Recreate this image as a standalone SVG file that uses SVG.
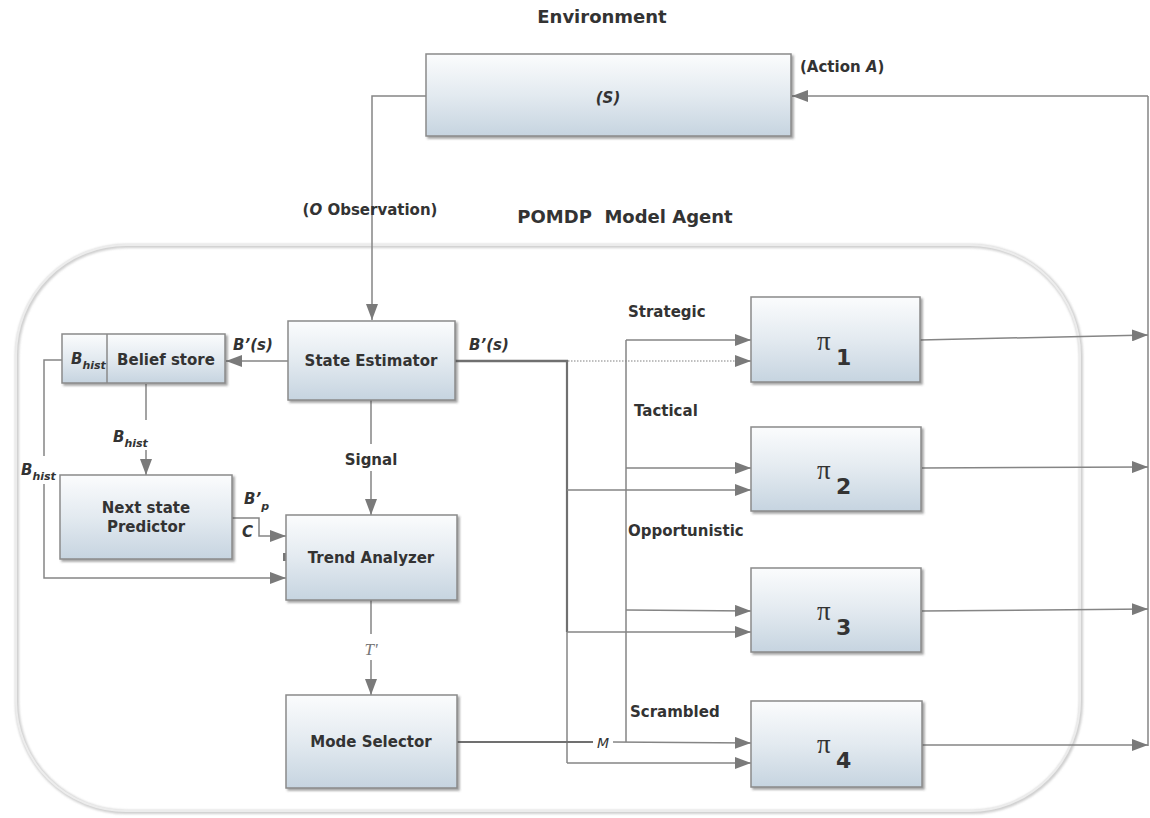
<svg xmlns="http://www.w3.org/2000/svg" width="1150" height="818" viewBox="0 0 1150 818">
<style>
.t{font-family:"DejaVu Sans","Verdana",sans-serif;font-weight:bold;fill:#333;}
.lbl{font-size:15px;}
.box{fill:url(#g);stroke:#8a8a8a;stroke-width:1.5;filter:url(#sh);}
.title{font-size:18px;}
.bi{font-style:italic;}
.ln{fill:none;stroke:#858585;stroke-width:1.5;}
.pi{font-family:"Liberation Serif","Times New Roman",serif;font-size:27px;fill:#333;}
.sub{font-family:"DejaVu Sans",sans-serif;font-weight:bold;font-size:22px;fill:#333;}
</style>
<defs>
<linearGradient id="g" x1="0" y1="0" x2="0" y2="1">
<stop offset="0" stop-color="#fbfcfd"/>
<stop offset="0.5" stop-color="#e3eaf0"/>
<stop offset="1" stop-color="#c6d4e0"/>
</linearGradient>
<filter id="sh" x="-10%" y="-10%" width="130%" height="140%">
<feDropShadow dx="2" dy="2" stdDeviation="1.2" flood-color="#444" flood-opacity="0.5"/>
</filter>
<filter id="csh" x="-5%" y="-5%" width="110%" height="110%">
<feGaussianBlur stdDeviation="1.2"/>
</filter>
<marker id="ah" markerUnits="userSpaceOnUse" markerWidth="16" markerHeight="12" refX="16" refY="6" orient="auto">
<path d="M0,0 L16,6 L0,12 z" fill="#7a7a7a"/>
</marker>
</defs>
<rect width="1150" height="818" fill="#fff"/>

<g id="agent-container">
<rect x="17" y="246" width="1064" height="566" rx="110" ry="110" fill="none" stroke="#cfcfcf" stroke-width="4" filter="url(#csh)"/>
<rect x="16" y="245" width="1064" height="566" rx="110" ry="110" fill="none" stroke="#ececec" stroke-width="2"/>
</g>

<text class="t title" x="602" y="23" text-anchor="middle">Environment</text>
<text class="t title" x="625" y="223" text-anchor="middle" xml:space="preserve">POMDP  Model Agent</text>

<g id="connectors">
<line class="ln" x1="1148" y1="96" x2="1148" y2="746"/>
<line class="ln" x1="1148" y1="96" x2="792" y2="96" marker-end="url(#ah)"/>
<polyline class="ln" points="426,96 372,96 372,320" marker-end="url(#ah)"/>
<line class="ln" x1="288" y1="361" x2="226" y2="361" marker-end="url(#ah)"/>
<line class="ln" x1="146" y1="384" x2="146" y2="420"/>
<line class="ln" x1="146" y1="450" x2="146" y2="475" marker-end="url(#ah)"/>
<polyline class="ln" points="62,360 44,360 44,456"/>
<polyline class="ln" points="44,484 44,578 286,578" marker-end="url(#ah)"/>
<polyline class="ln" points="232,518 259,518 259,536 286,536" marker-end="url(#ah)"/>
<rect x="283" y="553" width="4" height="8" fill="#777"/>
<line class="ln" x1="371" y1="400" x2="371" y2="444"/>
<line class="ln" x1="371" y1="471" x2="371" y2="515" marker-end="url(#ah)"/>
<line class="ln" x1="371" y1="600" x2="371" y2="634"/>
<line class="ln" x1="371" y1="660" x2="371" y2="695" marker-end="url(#ah)"/>
<line x1="455" y1="361" x2="568" y2="361" stroke="#707070" stroke-width="2.5"/>
<line x1="568" y1="361" x2="736" y2="361" stroke="#aaa" stroke-width="1.5" stroke-dasharray="1.5,1.5"/>
<line class="ln" x1="736" y1="361" x2="751" y2="361" marker-end="url(#ah)"/>
<line x1="567" y1="360" x2="567" y2="632" stroke="#707070" stroke-width="2.2"/>
<line class="ln" x1="567" y1="632" x2="567" y2="763"/>
<line class="ln" x1="567" y1="490" x2="751" y2="490" marker-end="url(#ah)"/>
<line class="ln" x1="567" y1="632" x2="751" y2="632" marker-end="url(#ah)"/>
<line class="ln" x1="567" y1="763" x2="751" y2="763" marker-end="url(#ah)"/>
<line x1="457" y1="742" x2="593" y2="742" stroke="#707070" stroke-width="2"/>
<line class="ln" x1="613" y1="742" x2="751" y2="743" marker-end="url(#ah)"/>
<line class="ln" x1="626" y1="340" x2="626" y2="742"/>
<line class="ln" x1="626" y1="340" x2="751" y2="340" marker-end="url(#ah)"/>
<line class="ln" x1="626" y1="468" x2="751" y2="468" marker-end="url(#ah)"/>
<line class="ln" x1="626" y1="610" x2="751" y2="611" marker-end="url(#ah)"/>
<line class="ln" x1="920" y1="340" x2="1148" y2="335" marker-end="url(#ah)"/>
<line class="ln" x1="922" y1="468" x2="1148" y2="467" marker-end="url(#ah)"/>
<line class="ln" x1="922" y1="611" x2="1148" y2="609" marker-end="url(#ah)"/>
<line class="ln" x1="922" y1="745" x2="1148" y2="745" marker-end="url(#ah)"/>
</g>

<g id="labels">
<text class="t lbl" x="800" y="72">(Action <tspan class="bi">A</tspan>)</text>
<text class="t lbl" x="370" y="215" text-anchor="middle">(<tspan class="bi">O</tspan> Observation)</text>
<text class="t lbl bi" x="233" y="350">B’(s)</text>
<text class="t lbl bi" x="469" y="350">B’(s)</text>
<text class="t lbl bi" x="113" y="442">B<tspan font-size="11" dy="5">hist</tspan></text>
<text class="t lbl bi" x="21" y="475">B<tspan font-size="11" dy="5">hist</tspan></text>
<text class="t lbl bi" x="244" y="504">B’<tspan font-size="11" dy="6">p</tspan></text>
<text class="t lbl bi" x="242" y="537">C</text>
<text class="t lbl" x="371" y="465" text-anchor="middle">Signal</text>
<text x="371" y="655" text-anchor="middle" font-family="Liberation Serif,serif" font-style="italic" font-size="17" fill="#777">T'</text>
<text x="603" y="748" text-anchor="middle" font-family="DejaVu Sans,sans-serif" font-style="italic" font-size="14" fill="#333">M</text>
<text class="t lbl" x="628" y="317">Strategic</text>
<text class="t lbl" x="634" y="416">Tactical</text>
<text class="t lbl" x="628" y="536">Opportunistic</text>
<text class="t lbl" x="630" y="717">Scrambled</text>
</g>

<g id="environment">
<rect class="box" x="426" y="54" width="365" height="82"/>
<text class="t lbl bi" x="608" y="103" text-anchor="middle">(S)</text>
</g>
<g id="state-estimator">
<rect class="box" x="288" y="321" width="167" height="79"/>
<text class="t lbl" x="371" y="366" text-anchor="middle">State Estimator</text>
</g>
<g id="belief-store">
<rect class="box" x="62" y="334" width="163" height="49"/>
<line x1="107" y1="334" x2="107" y2="383" stroke="#8a8a8a" stroke-width="1.5"/>
<text class="t lbl bi" x="71" y="364">B<tspan font-size="11" dy="5">hist</tspan></text>
<text class="t lbl" x="166" y="365" text-anchor="middle">Belief store</text>
</g>
<g id="next-state-predictor">
<rect class="box" x="60" y="475" width="172" height="84"/>
<text class="t lbl" x="146" y="513" text-anchor="middle">Next state</text>
<text class="t lbl" x="146" y="532" text-anchor="middle">Predictor</text>
</g>
<g id="trend-analyzer">
<rect class="box" x="286" y="515" width="171" height="85"/>
<text class="t lbl" x="371" y="563" text-anchor="middle">Trend Analyzer</text>
</g>
<g id="mode-selector">
<rect class="box" x="286" y="695" width="171" height="93"/>
<text class="t lbl" x="371" y="747" text-anchor="middle">Mode Selector</text>
</g>
<g id="pi1">
<rect class="box" x="751" y="297" width="169" height="85"/>
<text class="pi" x="817" y="350">π</text><text class="sub" x="836" y="365">1</text>
</g>
<g id="pi2">
<rect class="box" x="751" y="427" width="170" height="84"/>
<text class="pi" x="817" y="479">π</text><text class="sub" x="836" y="494">2</text>
</g>
<g id="pi3">
<rect class="box" x="751" y="568" width="170" height="84"/>
<text class="pi" x="817" y="620">π</text><text class="sub" x="836" y="635">3</text>
</g>
<g id="pi4">
<rect class="box" x="751" y="701" width="171" height="86"/>
<text class="pi" x="817" y="753">π</text><text class="sub" x="836" y="768">4</text>
</g>
</svg>
